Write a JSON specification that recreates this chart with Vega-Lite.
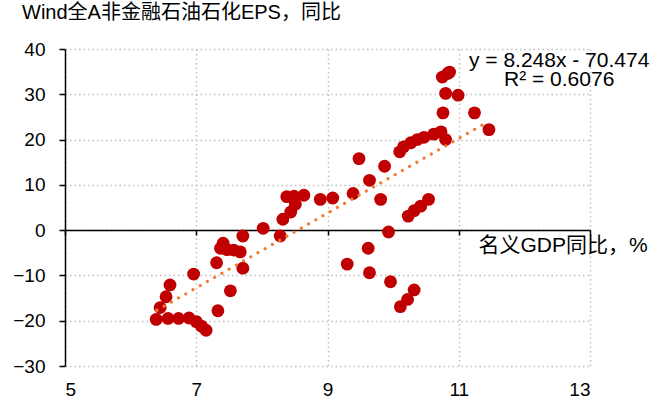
{
  "$schema": "https://vega.github.io/schema/vega-lite/v6.json",
  "width": 525,
  "height": 317,
  "autosize": {"type": "none"},
  "padding": {"left": 65, "top": 49, "right": 77, "bottom": 37},
  "background": "white",
  "config": {
    "font": "Liberation Sans",
    "view": {"stroke": null},
    "axis": {
      "labelFont": "Liberation Sans",
      "labelColor": "#000000",
      "labelFontSize": 19,
      "gridColor": "#BFBFBF",
      "gridDash": [1.5, 3],
      "gridWidth": 1.5,
      "domainColor": "#000000",
      "tickColor": "#000000",
      "title": null
    }
  },
  "title": {
    "text": "Wind全A非金融石油石化EPS，同比",
    "anchor": "start",
    "frame": "group",
    "dx": -43,
    "offset": 17,
    "fontSize": 20,
    "fontWeight": "normal",
    "font": "Liberation Sans, Noto Sans CJK SC",
    "color": "#000000"
  },
  "datasets": {
    "points": [
      {"gdp": 6.39, "eps": -19.7}, {"gdp": 6.57, "eps": -19.5}, {"gdp": 6.73, "eps": -19.5},
      {"gdp": 6.89, "eps": -19.4}, {"gdp": 7.00, "eps": -20.2}, {"gdp": 7.08, "eps": -21.2},
      {"gdp": 7.15, "eps": -22.1}, {"gdp": 6.45, "eps": -17.1}, {"gdp": 6.54, "eps": -14.7},
      {"gdp": 6.60, "eps": -12.1}, {"gdp": 6.96, "eps": -9.7}, {"gdp": 7.33, "eps": -17.8},
      {"gdp": 7.52, "eps": -13.4}, {"gdp": 7.71, "eps": -8.4}, {"gdp": 7.31, "eps": -7.2},
      {"gdp": 7.37, "eps": -4.0}, {"gdp": 7.41, "eps": -2.9}, {"gdp": 7.47, "eps": -4.3},
      {"gdp": 7.57, "eps": -4.4}, {"gdp": 7.67, "eps": -4.8}, {"gdp": 7.71, "eps": -1.3},
      {"gdp": 8.02, "eps": 0.4}, {"gdp": 8.28, "eps": -1.3}, {"gdp": 8.32, "eps": 2.4},
      {"gdp": 8.44, "eps": 4.0}, {"gdp": 8.51, "eps": 5.7}, {"gdp": 8.38, "eps": 7.4},
      {"gdp": 8.49, "eps": 7.5}, {"gdp": 8.64, "eps": 7.7}, {"gdp": 8.89, "eps": 6.8},
      {"gdp": 9.08, "eps": 7.1}, {"gdp": 9.39, "eps": 8.1}, {"gdp": 9.48, "eps": 15.8},
      {"gdp": 9.64, "eps": 11.0}, {"gdp": 9.81, "eps": 6.8}, {"gdp": 9.87, "eps": 14.1},
      {"gdp": 9.93, "eps": -0.4}, {"gdp": 9.62, "eps": -4.0}, {"gdp": 9.30, "eps": -7.5},
      {"gdp": 9.64, "eps": -9.4}, {"gdp": 9.96, "eps": -11.4}, {"gdp": 10.32, "eps": -13.2},
      {"gdp": 10.22, "eps": -15.3}, {"gdp": 10.11, "eps": -16.9}, {"gdp": 10.23, "eps": 3.1},
      {"gdp": 10.32, "eps": 4.3}, {"gdp": 10.42, "eps": 5.3}, {"gdp": 10.54, "eps": 6.8},
      {"gdp": 10.10, "eps": 17.3}, {"gdp": 10.16, "eps": 18.4}, {"gdp": 10.27, "eps": 19.3},
      {"gdp": 10.37, "eps": 20.0}, {"gdp": 10.47, "eps": 20.5}, {"gdp": 10.62, "eps": 21.2},
      {"gdp": 10.73, "eps": 21.7}, {"gdp": 10.80, "eps": 20.0}, {"gdp": 11.46, "eps": 22.2},
      {"gdp": 10.75, "eps": 33.8}, {"gdp": 10.83, "eps": 34.6}, {"gdp": 10.86, "eps": 34.9},
      {"gdp": 10.80, "eps": 30.2}, {"gdp": 10.99, "eps": 29.8}, {"gdp": 10.76, "eps": 25.9},
      {"gdp": 11.24, "eps": 25.9}
    ],
    "trend": [
      {"gdp": 6.40, "eps": -17.69},
      {"gdp": 11.46, "eps": 24.05}
    ]
  },
  "layer": [
    {
      "data": {"name": "points"},
      "mark": {"type": "point", "filled": true, "opacity": 1, "color": "#C00000", "size": 165},
      "encoding": {
        "x": {
          "field": "gdp", "type": "quantitative",
          "scale": {"domain": [5, 13], "nice": false, "zero": false},
          "axis": {"values": [5, 7, 9, 11, 13], "domain": false, "ticks": false, "labelPadding": 14, "grid": true}
        },
        "y": {
          "field": "eps", "type": "quantitative",
          "scale": {"domain": [-30, 40], "nice": false, "zero": false},
          "axis": {"values": [-30, -20, -10, 0, 10, 20, 30, 40], "grid": true, "domain": true, "domainWidth": 1.5, "ticks": true, "tickSize": 6, "tickWidth": 1.5, "labelPadding": 14}
        }
      }
    },
    {
      "data": {"name": "trend"},
      "mark": {"type": "line", "color": "#ED7D31", "strokeWidth": 3.2, "strokeDash": [0.01, 8.3], "strokeCap": "round"},
      "encoding": {
        "x": {
          "field": "gdp", "type": "quantitative",
          "axis": {"values": [5, 7, 9, 11, 13], "orient": "bottom", "offset": -136, "domain": true, "domainWidth": 1.5, "ticks": true, "tickSize": 5, "tickWidth": 1.5, "labels": false, "grid": false}
        },
        "y": {"field": "eps", "type": "quantitative"}
      }
    },
    {
      "data": {"values": [{}]},
      "mark": {"type": "text", "text": ["y = 8.248x - 70.474", "R² = 0.6076"], "align": "center", "baseline": "middle", "fontSize": 21, "lineHeight": 19, "font": "Liberation Sans", "color": "#000000"},
      "encoding": {
        "x": {"datum": 12.53, "type": "quantitative", "axis": null},
        "y": {"datum": 37.4, "type": "quantitative"}
      }
    },
    {
      "data": {"values": [{}]},
      "mark": {"type": "text", "text": "名义GDP同比，%", "align": "left", "baseline": "middle", "fontSize": 21, "font": "Liberation Sans, Noto Sans CJK SC", "color": "#000000"},
      "encoding": {
        "x": {"datum": 11.3, "type": "quantitative", "axis": null},
        "y": {"datum": -3.4, "type": "quantitative"}
      }
    }
  ],
  "resolve": {"axis": {"x": "independent"}}
}
